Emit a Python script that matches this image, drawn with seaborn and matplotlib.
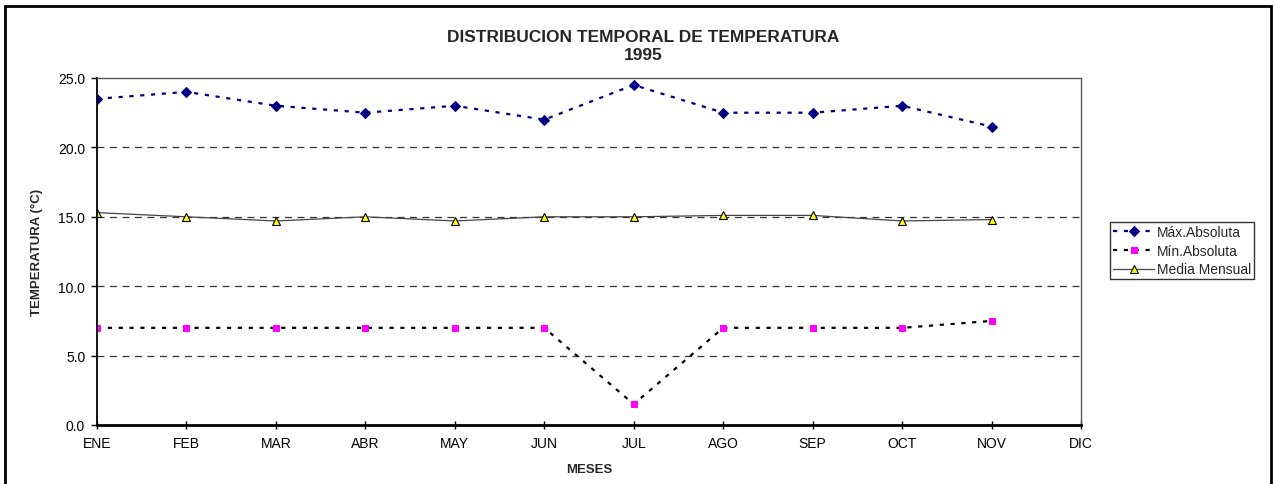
import numpy as np
import pandas as pd
import matplotlib
matplotlib.use("Agg")
import matplotlib.pyplot as plt
import matplotlib.patches as mpatches
import seaborn as sns

meses = ["ENE", "FEB", "MAR", "ABR", "MAY", "JUN", "JUL", "AGO", "SEP", "OCT", "NOV", "DIC"]
max_abs = [23.5, 24.0, 23.0, 22.5, 23.0, 22.0, 24.5, 22.5, 22.5, 23.0, 21.5]
min_abs = [7.0, 7.0, 7.0, 7.0, 7.0, 7.0, 1.5, 7.0, 7.0, 7.0, 7.5]
media = [15.3, 15.0, 14.7, 15.0, 14.7, 15.0, 15.0, 15.1, 15.1, 14.7, 14.8]
yticks = [0.0, 5.0, 10.0, 15.0, 20.0, 25.0]

sns.set_theme(style="white")
plt.rcParams["font.family"] = ["Liberation Sans", "DejaVu Sans"]
plt.rcParams["lines.scale_dashes"] = False

W, H = 1274, 485
fig = plt.figure(figsize=(W / 100, H / 100), dpi=100)
fig.patch.set_facecolor("white")
x0, x1, y0, y1 = 97, 1081, 79, 426
ax = fig.add_axes([x0 / W, 1 - y1 / H, (x1 - x0) / W, (y1 - y0) / H])

n = len(max_abs)
df = pd.DataFrame({
    "idx": np.arange(n),
    "max": max_abs,
    "min": min_abs,
    "media": media,
})

sns.lineplot(data=df, x="idx", y="max", ax=ax, color="#000080", linestyle=(0, (3.0, 4.8)),
             linewidth=1.6, marker="D", markersize=4.6, markeredgecolor="#000080",
             markerfacecolor="#000080", label="Máx.Absoluta", legend=False)
sns.lineplot(data=df, x="idx", y="min", ax=ax, color="black", linestyle=(0, (3.0, 4.8)),
             linewidth=1.6, marker="s", markersize=4.4, markeredgecolor="#FF00FF",
             markerfacecolor="#FF00FF", label="Mín.Absoluta", legend=False)
sns.lineplot(data=df, x="idx", y="media", ax=ax, color="#444444", linestyle="-",
             linewidth=0.9, marker="^", markersize=5.2, markeredgecolor="black",
             markeredgewidth=0.8, markerfacecolor="#FFFF00", label="Media Mensual", legend=False)

ax.set_xlim(0, len(meses) - 1)
ax.set_ylim(0, 25)
ax.set_xticks(range(len(meses)))
ax.set_xticklabels(meses)
ax.set_yticks(yticks)
ax.set_yticklabels([f"{v:.1f}" for v in yticks])

for v in yticks[1:-1]:
    ax.axhline(v, color="#333333", linestyle=(0, (5.0, 4.0)), linewidth=0.9, zorder=0.5)

for s in ["top", "right"]:
    ax.spines[s].set_color("#555555")
    ax.spines[s].set_linewidth(1.0)
ax.spines["left"].set_color("black")
ax.spines["left"].set_linewidth(1.3)
ax.spines["bottom"].set_color("black")
ax.spines["bottom"].set_linewidth(2.0)
ax.set_zorder(1)

ax.tick_params(axis="x", direction="inout", length=6, width=1, colors="black",
               labelsize=10, pad=5, bottom=True)
ax.tick_params(axis="y", direction="out", length=4.5, width=1, colors="black",
               labelsize=10, pad=4, left=True)

ax.set_xlabel("MESES", fontsize=9.5, fontweight="bold", labelpad=9)
ax.set_ylabel("TEMPERATURA (°C)", fontsize=9.5, fontweight="bold")
ax.yaxis.set_label_coords((43 - x0) / (x1 - x0), 0.5)

fig.text(643 / W, 1 - 38 / H, "DISTRIBUCION TEMPORAL DE TEMPERATURA", ha="center", va="center",
         fontsize=12.5, fontweight="bold")
fig.text(643 / W, 1 - 55 / H, "1995", ha="center", va="center", fontsize=12.5, fontweight="bold")

handles, labels = ax.get_legend_handles_labels()
leg = fig.legend(handles, labels, loc="upper left", bbox_to_anchor=(1110 / W, 1 - 223 / H),
                 fontsize=10, frameon=True, fancybox=False, shadow=False, handlelength=3.0,
                 handletextpad=0.2, borderpad=0.2, labelspacing=0.35, borderaxespad=0)
leg.get_frame().set_edgecolor("black")
leg.get_frame().set_linewidth(1.0)

border = mpatches.Rectangle((5 / W, -0.05), (1271 - 5) / W, (1 - 7 / H) + 0.05,
                            transform=fig.transFigure, fill=False, edgecolor="black",
                            linewidth=2.0, clip_on=False)
fig.patches.append(border)

fig.savefig("out.png", dpi=100, facecolor="white")
